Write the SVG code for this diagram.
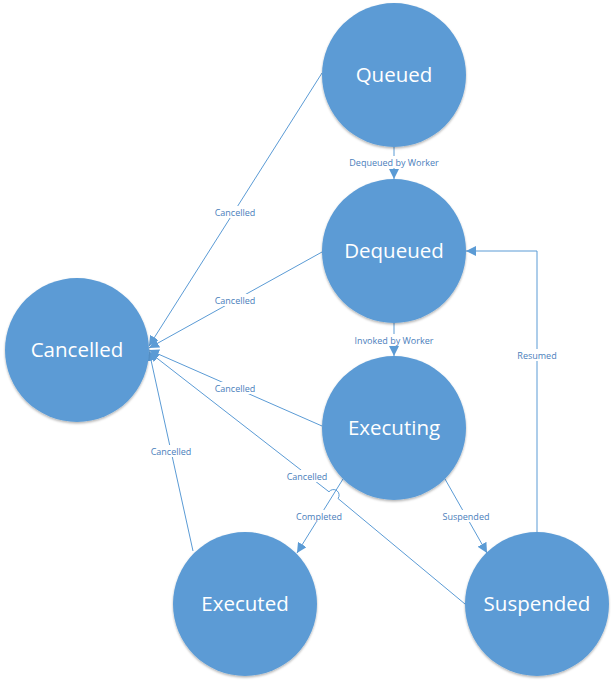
<svg xmlns="http://www.w3.org/2000/svg" width="615" height="684" viewBox="0 0 615 684">
<defs>
<marker id="arr" viewBox="0 0 10 10" refX="10" refY="5" markerWidth="10" markerHeight="10" markerUnits="userSpaceOnUse" orient="auto">
<path d="M0,0 L10,5 L0,10 Z" fill="#5B9BD5"/>
</marker>
<filter id="sh" x="-10%" y="-10%" width="120%" height="125%">
<feDropShadow dx="0" dy="1.5" stdDeviation="1.2" flood-color="#000" flood-opacity="0.3"/>
</filter>
</defs>
<style>
.node circle{fill:#5B9BD5;filter:url(#sh)}
.node text{font-family:"Open Sans","Liberation Sans",sans-serif;font-size:20.5px;fill:#fff;text-anchor:middle;dominant-baseline:central}
.edge{fill:none;stroke:#5B9BD5;stroke-width:1;marker-end:url(#arr)}
.lbl rect{fill:#fff}
.lbl text{font-family:"Open Sans","Liberation Sans",sans-serif;font-size:9px;fill:#4A7EBB;text-anchor:middle;dominant-baseline:central}
</style>
<rect width="615" height="684" fill="#fff"/>
<g id="connectors">
<path class="edge" d="M322,73 L149,346"/>
<path class="edge" d="M322,252 L149,348"/>
<path class="edge" d="M322,426 L149,350"/>
<path class="edge" d="M193,551 L149,351"/>
<path class="edge" d="M465,604 L338,498.5 A4,4 0 0 0 329,491.8 L149,352"/>
<path class="edge" d="M394,147 L394,179"/>
<path class="edge" d="M394,323 L394,356"/>
<path class="edge" d="M343,479 L297,553"/>
<path class="edge" d="M445,479 L487,553"/>
<path class="edge" d="M537,532 L537,251 L466,251"/>
<g class="lbl">
<rect x="211" y="206" width="48" height="12"/><text x="235" y="212">Cancelled</text>
<rect x="211" y="294" width="48" height="12"/><text x="235" y="300">Cancelled</text>
<rect x="211" y="382" width="48" height="12"/><text x="235" y="388">Cancelled</text>
<rect x="147" y="445" width="48" height="12"/><text x="171" y="451">Cancelled</text>
<rect x="283" y="470" width="48" height="12"/><text x="307" y="476">Cancelled</text>
<rect x="345" y="156" width="98" height="12"/><text x="394" y="162">Dequeued by Worker</text>
<rect x="350" y="334" width="88" height="12"/><text x="394" y="340">Invoked by Worker</text>
<rect x="292" y="510" width="54" height="12"/><text x="319" y="516">Completed</text>
<rect x="439" y="510" width="54" height="12"/><text x="466" y="516">Suspended</text>
<rect x="514" y="349" width="46" height="12"/><text x="537" y="355">Resumed</text>
</g>
</g>
<g id="queued" class="node"><circle cx="394" cy="75" r="72"/><text x="394" y="73.5">Queued</text></g>
<g id="dequeued" class="node"><circle cx="394" cy="251" r="72"/><text x="394" y="249.5">Dequeued</text></g>
<g id="cancelled" class="node"><circle cx="77" cy="350" r="72"/><text x="77" y="348.5">Cancelled</text></g>
<g id="executing" class="node"><circle cx="394" cy="428" r="72"/><text x="394" y="426.5">Executing</text></g>
<g id="executed" class="node"><circle cx="245" cy="604" r="72"/><text x="245" y="602.5">Executed</text></g>
<g id="suspended" class="node"><circle cx="537" cy="604" r="72"/><text x="537" y="602.5">Suspended</text></g>
</svg>
